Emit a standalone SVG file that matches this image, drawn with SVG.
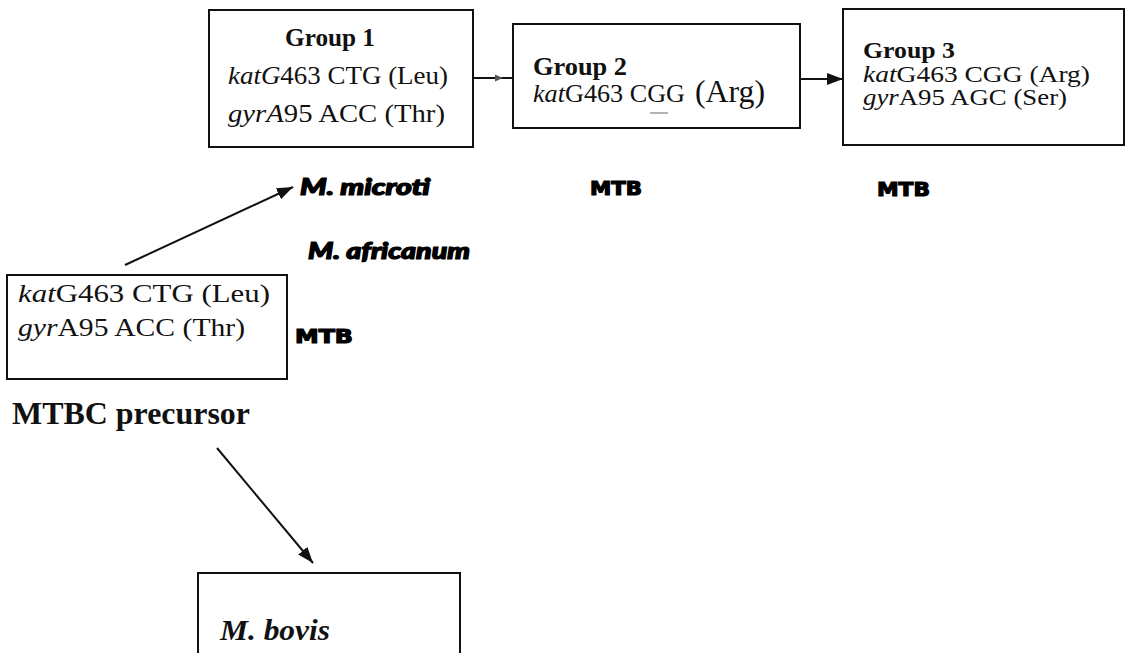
<svg xmlns="http://www.w3.org/2000/svg" width="1127" height="653" viewBox="0 0 1127 653">
  <style>
    .box { fill: #ffffff; stroke: #111111; stroke-width: 2; }
    .t { font-family: "Liberation Serif", "Times New Roman", serif; font-size: 25px; fill: #111111; }
    .s { font-size: 23px; }
    .b { font-weight: bold; }
    .i { font-style: italic; }
    .heavy { font-family: Lato, "DejaVu Sans", sans-serif; font-weight: 900; font-style: italic; font-size: 22px; fill: #000000; stroke: #000000; stroke-width: 1.2; }
    .mtb { font-family: "DejaVu Sans", Lato, sans-serif; font-weight: bold; font-size: 19px; fill: #000000; stroke: #000000; stroke-width: 1.2; }
    .conn { stroke: #111111; stroke-width: 2; fill: none; }
  </style>
  <defs>
    <marker id="ah" viewBox="0 0 16 12" refX="16" refY="6" markerWidth="16" markerHeight="12" markerUnits="userSpaceOnUse" orient="auto">
      <path d="M0,0 L16,6 L0,12 Z" fill="#111111"/>
    </marker>
  </defs>
  <rect width="1127" height="653" fill="#ffffff"/>

  <g id="connectors">
    <path class="conn" d="M473 78 L513 78"/>
    <polygon points="495,74.5 503,78 495,81.5" fill="#555555"/>
    <path class="conn" d="M800 79 L843 79" marker-end="url(#ah)"/>
    <path class="conn" d="M125 265 L293 187" marker-end="url(#ah)"/>
    <path class="conn" d="M217 448 L313 563" marker-end="url(#ah)"/>
  </g>

  <g id="group1">
    <rect class="box" x="209" y="10" width="264" height="137"/>
    <text class="t b" x="285" y="46" textLength="90" lengthAdjust="spacingAndGlyphs">Group 1</text>
    <text class="t" x="228" y="84" textLength="220" lengthAdjust="spacingAndGlyphs"><tspan class="i">katG</tspan>463 CTG (Leu)</text>
    <text class="t" x="228" y="122" textLength="217" lengthAdjust="spacingAndGlyphs"><tspan class="i">gyrA</tspan>95 ACC (Thr)</text>
  </g>

  <g id="group2">
    <rect class="box" x="513" y="24" width="287" height="104"/>
    <text class="t b" x="533" y="75" textLength="94" lengthAdjust="spacingAndGlyphs">Group 2</text>
    <text class="t" x="533" y="102" textLength="152" lengthAdjust="spacingAndGlyphs"><tspan class="i">kat</tspan>G463 CGG</text>
    <text class="t" x="695" y="102" style="font-size:31px" textLength="70" lengthAdjust="spacingAndGlyphs">(Arg)</text>
    <line x1="650" y1="113" x2="668" y2="113" stroke="#9a9a9a" stroke-width="1.5"/>
  </g>

  <g id="group3">
    <rect class="box" x="843" y="9" width="281" height="136"/>
    <text class="t s b" x="863" y="58" textLength="92" lengthAdjust="spacingAndGlyphs">Group 3</text>
    <text class="t s" x="863" y="82" textLength="227" lengthAdjust="spacingAndGlyphs"><tspan class="i">kat</tspan>G463  CGG (Arg)</text>
    <text class="t s" x="863" y="105" textLength="204" lengthAdjust="spacingAndGlyphs"><tspan class="i">gyr</tspan>A95 AGC (Ser)</text>
  </g>

  <g id="precursor">
    <rect class="box" x="7" y="275" width="280" height="104"/>
    <text class="t" x="18" y="302" textLength="252" lengthAdjust="spacingAndGlyphs"><tspan class="i">kat</tspan>G463  CTG  (Leu)</text>
    <text class="t" x="18" y="336" textLength="227" lengthAdjust="spacingAndGlyphs"><tspan class="i">gyr</tspan>A95 ACC  (Thr)</text>
    <text class="t b" x="12" y="424" style="font-size:32px" textLength="238" lengthAdjust="spacingAndGlyphs">MTBC precursor</text>
  </g>

  <g id="labels">
    <text class="heavy" x="300" y="195" textLength="130" lengthAdjust="spacingAndGlyphs">M. microti</text>
    <text class="heavy" x="308" y="259" textLength="162" lengthAdjust="spacingAndGlyphs">M. africanum</text>
    <text class="mtb" x="295" y="343" textLength="58" lengthAdjust="spacingAndGlyphs">MTB</text>
    <text class="mtb" x="590" y="195" textLength="52" lengthAdjust="spacingAndGlyphs">MTB</text>
    <text class="mtb" x="877" y="196" textLength="53" lengthAdjust="spacingAndGlyphs">MTB</text>
  </g>

  <g id="bovis">
    <rect class="box" x="198" y="573" width="262" height="95"/>
    <text class="t b i" x="220" y="640" style="font-size:30px" textLength="110" lengthAdjust="spacingAndGlyphs">M. bovis</text>
  </g>
</svg>
